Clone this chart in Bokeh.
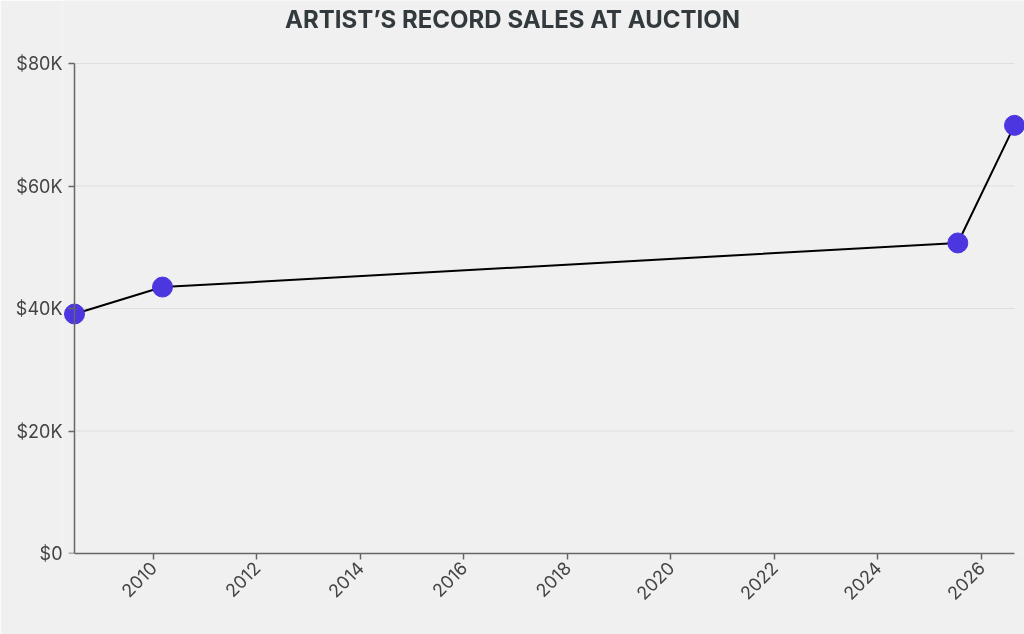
from datetime import datetime
from bokeh.plotting import figure
from bokeh.models import Range1d, FixedTicker, DatetimeTickFormatter, LinearAxis, Label
from bokeh.embed import file_html
from bokeh.resources import INLINE

# Data
sale_dates = ["2008-06-24", "2010-03-07", "2025-07-18", "2026-08-22"]
sale_values = [39100, 43500, 50700, 69900]

y_ticks = [0, 20000, 40000, 60000, 80000]
y_tick_labels = ["$0", "$20K", "$40K", "$60K", "$80K"]
x_tick_years = [2010, 2012, 2014, 2016, 2018, 2020, 2022, 2024, 2026]
title_text = "ARTIST\u2019S RECORD SALES AT AUCTION"

dates = [datetime.strptime(d, "%Y-%m-%d") for d in sale_dates]

def ms(dt):
    return (dt - datetime(1970, 1, 1)).total_seconds() * 1000.0

x_ms = [ms(d) for d in dates]
tick_ms = [ms(datetime(y, 1, 1)) for y in x_tick_years]

BG = "#f0f0f0"
AXIS = "#666666"
LABEL = "#444444"

W, H = 1024, 634
FRAME_LEFT = 62
FRAME_BOTTOM = 553          # screen y of the $0 line
Y_MAX = 80000
Y_MAX_PX = 63               # screen y of the $80K line

# data extent occupies 940 px; pad the frame so markers are not clipped
span = x_ms[-1] - x_ms[0]
per_px = span / 940.0
x_start = x_ms[0] - 12 * per_px
x_end = x_ms[-1] + 10 * per_px

# the frame reaches the top of the canvas so the title sits inside it
y_per_px = Y_MAX / (FRAME_BOTTOM - Y_MAX_PX)
y_end = FRAME_BOTTOM * y_per_px

p = figure(
    width=W, height=H,
    x_axis_type="datetime",
    x_range=Range1d(x_start, x_end),
    y_range=Range1d(0, y_end),
    output_backend="svg",
    toolbar_location=None,
    min_border_left=FRAME_LEFT, min_border_right=0,
    min_border_top=0, min_border_bottom=H - FRAME_BOTTOM,
    background_fill_color=BG, border_fill_color=BG,
    outline_line_color=None,
    styles={"position": "fixed", "left": "0px", "top": "0px"},
)

# title centred on the page
p.add_layout(Label(x=x_start + (W / 2 - FRAME_LEFT) * per_px,
                   y=y_end - 19 * y_per_px,
                   text=title_text, text_align="center", text_baseline="middle",
                   text_font="Inter", text_font_style="bold",
                   text_font_size="24px", text_color="#333a3d"))

# horizontal grid lines spanning the data extent
n = len(y_ticks)
p.segment(x0=[x_ms[0]] * n, x1=[x_ms[-1]] * n, y0=y_ticks, y1=y_ticks,
          line_color="#dedede", line_width=1)

p.line(x_ms, sale_values, line_color="black", line_width=2)
p.scatter(x_ms, sale_values, size=20, fill_color="#4b36e0", line_color="#4b36e0")

# X axis
p.xaxis.ticker = FixedTicker(ticks=tick_ms)
p.xaxis.formatter = DatetimeTickFormatter(years="%Y", months="%Y", days="%Y")
p.xaxis.major_label_orientation = 0.785398
p.xaxis.bounds = (x_ms[0], x_ms[-1])

# Y axis: labels only at frame edge
p.yaxis.ticker = FixedTicker(ticks=y_ticks)
p.yaxis.bounds = (0, Y_MAX)
p.yaxis.major_label_overrides = {t: l for t, l in zip(y_ticks, y_tick_labels)}
p.yaxis.axis_line_color = None
p.yaxis.major_tick_line_color = None
p.yaxis.major_tick_out = 0
p.yaxis.major_tick_in = 0
p.yaxis.major_label_standoff = 0

# Y axis line and ticks at the first data date
y_line = LinearAxis(fixed_location=x_ms[0], ticker=FixedTicker(ticks=y_ticks),
                    bounds=(0, Y_MAX),
                    major_label_overrides={t: "" for t in y_ticks})
y_line.axis_line_color = AXIS
y_line.axis_line_width = 1.5
y_line.major_tick_line_color = AXIS
y_line.major_tick_line_width = 1.5
y_line.major_tick_out = 6
y_line.major_tick_in = 0
y_line.minor_tick_line_color = None
y_line.major_label_text_font_size = "1px"
p.add_layout(y_line, "left")

for ax in (p.xaxis, p.yaxis):
    ax.minor_tick_line_color = None
    ax.major_label_text_font = "Inter"
    ax.major_label_text_color = LABEL
    ax.major_label_text_font_size = "18px"
p.xaxis.axis_line_color = AXIS
p.xaxis.axis_line_width = 1.5
p.xaxis.major_tick_line_color = AXIS
p.xaxis.major_tick_line_width = 1.5
p.xaxis.major_tick_out = 6
p.xaxis.major_tick_in = 0

p.xgrid.grid_line_color = None
p.ygrid.grid_line_color = None

open("out.html", "w").write(file_html(p, INLINE))
